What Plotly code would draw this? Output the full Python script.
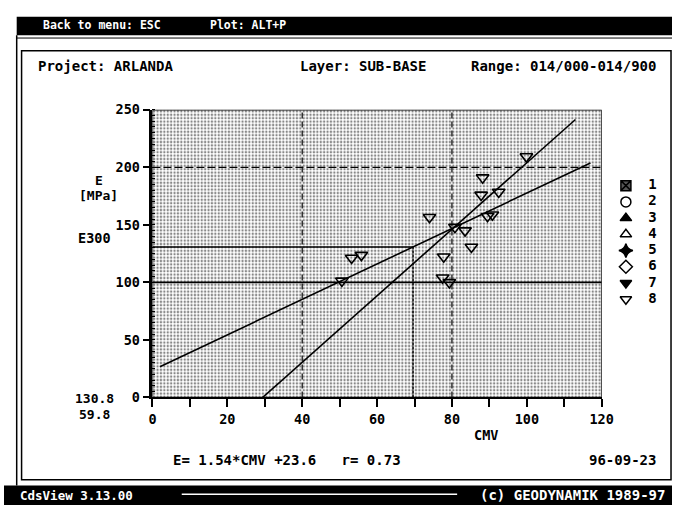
import plotly.graph_objects as go

W, H = 684, 513
FONT = "DejaVu Sans Mono"

# ---------------- data ----------------
cmv = [50.6, 53.2, 55.8, 74.0, 77.8, 77.5, 79.3, 80.8, 83.5, 85.2, 87.8, 88.2, 89.5, 90.8, 92.5, 99.9]
e_mod = [101.3, 121.2, 123.7, 156.6, 122.3, 104.0, 100.0, 148.0, 145.0, 130.7, 176.0, 191.0, 157.4, 158.8, 178.5, 209.3]

reg_slope, reg_intercept, r_value = 1.54, 23.6, 0.73
flat_cmv_range = [2.0, 117.0]
steep_cmv_range = [29.4, 113.0]
mean_cmv = 80.5
e300_value = 130.8
e300_label, cmv300_label = "130.8", "59.8"

x_ticks = [0, 20, 40, 60, 80, 100, 120]
y_ticks = [0, 50, 100, 150, 200, 250]
legend_names = ["1", "2", "3", "4", "5", "6", "7", "8"]
legend_symbols = ["square-x", "circle-open", "triangle-up", "triangle-up-open",
                  "star-diamond", "diamond-open", "triangle-down", "triangle-down-open"]

# regression lines
flat_e = [reg_slope * c + reg_intercept for c in flat_cmv_range]
steep_slope = reg_slope / r_value ** 2
mean_e = reg_slope * mean_cmv + reg_intercept
steep_e = [steep_slope * (c - mean_cmv) + mean_e for c in steep_cmv_range]
cmv300 = (e300_value - reg_intercept) / reg_slope


def px(x, y):
    return x / W, 1 - y / H


fig = go.Figure()

# stippled background of the plot area
fig.add_trace(go.Scatter(x=[0, 120, 120, 0, 0], y=[0, 0, 250, 250, 0], mode="lines",
                         fill="toself", line=dict(width=0), fillcolor="white",
                         fillpattern=dict(shape=".", size=3.4, solidity=0.38,
                                          fgcolor="#111111", bgcolor="white"),
                         hoverinfo="skip", showlegend=False))

# regression lines
fig.add_trace(go.Scatter(x=flat_cmv_range, y=flat_e, mode="lines",
                         line=dict(color="black", width=1.6), showlegend=False))
fig.add_trace(go.Scatter(x=steep_cmv_range, y=steep_e, mode="lines",
                         line=dict(color="black", width=1.6), showlegend=False))

# data points (series 8)
fig.add_trace(go.Scatter(x=cmv, y=e_mod, mode="markers",
                         marker=dict(symbol="triangle-down-open", size=11, color="black",
                                     line=dict(width=1.6, color="black")),
                         showlegend=False))

# manual legend
idx = list(range(1, len(legend_names) + 1))
fig.add_trace(go.Scatter(x=[0.2] * len(idx), y=idx, mode="markers", xaxis="x2", yaxis="y2",
                         marker=dict(symbol=legend_symbols, size=10,
                                     color=["#555555", "black", "black", "black", "black", "black", "black", "black"],
                                     line=dict(width=1.5, color="black")),
                         showlegend=False))
fig.add_trace(go.Scatter(x=[0.82] * len(idx), y=idx, mode="text", text=legend_names,
                         xaxis="x2", yaxis="y2",
                         textfont=dict(family=FONT, size=14, color="black", weight="bold"),
                         showlegend=False))

shapes = []
# grid / reference lines (data coords)
for xv in [40, 80]:
    shapes.append(dict(type="line", xref="x", yref="y", x0=xv, x1=xv, y0=0, y1=250,
                       line=dict(color="black", width=1.2, dash="6px,3px")))
shapes.append(dict(type="line", xref="x", yref="y", x0=0, x1=120, y0=200, y1=200,
                   line=dict(color="black", width=1.2, dash="8px,3px")))
shapes.append(dict(type="line", xref="x", yref="y", x0=0, x1=120, y0=100, y1=100,
                   line=dict(color="black", width=1.6)))
shapes.append(dict(type="line", xref="x", yref="y", x0=0, x1=cmv300, y0=e300_value, y1=e300_value,
                   line=dict(color="black", width=1.5)))
shapes.append(dict(type="line", xref="x", yref="y", x0=cmv300, x1=cmv300, y0=0, y1=e300_value,
                   line=dict(color="black", width=1.5, dash="3px,1px")))
# plot box
shapes.append(dict(type="rect", xref="x", yref="y", x0=0, x1=120, y0=0, y1=250,
                   line=dict(color="black", width=1.5)))


# screen frame (paper coords)
def rect(x0, y0, x1, y1, fill=None, lw=0, lc="black"):
    a = px(x0, y1)
    b = px(x1, y0)
    d = dict(type="rect", xref="paper", yref="paper", x0=a[0], y0=a[1], x1=b[0], y1=b[1],
             line=dict(width=lw, color=lc))
    if fill:
        d["fillcolor"] = fill
    return d


def hline(x0, x1, y, lw=1.5, color="black"):
    return dict(type="line", xref="paper", yref="paper", x0=x0 / W, x1=x1 / W,
                y0=1 - y / H, y1=1 - y / H, line=dict(width=lw, color=color))


def vline(x, y0, y1, lw=1.5, color="black"):
    return dict(type="line", xref="paper", yref="paper", x0=x / W, x1=x / W,
                y0=1 - y0 / H, y1=1 - y1 / H, line=dict(width=lw, color=color))


shapes.append(rect(13, 9, 684, 28, fill="black"))
shapes.append(rect(0, 493, 684, 513, fill="black"))
shapes.append(rect(18, 44, 683, 487, lw=1.5))
shapes.append(hline(13, 684, 31, lw=1))
shapes.append(vline(13, 28, 493, lw=1.5))
shapes.append(hline(182, 464, 502, lw=1.5, color="white"))

annotations = []


def txt(s, x, y, size=14, anchor="left", color="black"):
    xx, yy = px(x, y)
    annotations.append(dict(text=s, x=xx, y=yy, xref="paper", yref="paper",
                            xanchor=anchor, yanchor="middle", showarrow=False,
                            font=dict(family=FONT, size=size, color=color, weight="bold")))


txt("Back to menu: ESC", 38, 18, size=11.5, color="white")
txt("Plot: ALT+P", 209, 18, size=11.5, color="white")
txt("CdsView 3.13.00", 14, 503, size=12.5, color="white")
txt("(c) GEODYNAMIK 1989-97", 679, 503, size=14, anchor="right", color="white")

txt("Project: ARLANDA", 33, 60)
txt("Layer: SUB-BASE", 368, 60, anchor="center")
txt("Range: 014/000-014/900", 670, 60, anchor="right")

txt("E", 97, 178, size=13, anchor="center")
txt("[MPa]", 97, 194, size=13, anchor="center")
txt("E300", 93, 237, size=13.5, anchor="center")
txt(e300_label, 93, 403, size=13, anchor="center")
txt(cmv300_label, 93, 420, size=13, anchor="center")

txt("CMV", 494, 441, size=13.5, anchor="center")
txt("E= %.2f*CMV +%.1f   r= %.2f" % (reg_slope, reg_intercept, r_value), 171, 467)
txt("96-09-23", 670, 467, anchor="right")

tickfont = dict(family=FONT, size=13.5, color="black", weight="bold")

fig.update_layout(
    width=W, height=H,
    margin=dict(l=0, r=0, t=0, b=0),
    paper_bgcolor="white", plot_bgcolor="white",
    showlegend=False,
    shapes=shapes, annotations=annotations,
    xaxis=dict(domain=[152 / W, 612 / W], range=[0, 120], tickvals=x_ticks,
               ticks="outside", ticklen=8, tickwidth=1.5, tickcolor="black",
               minor=dict(dtick=10, ticks="outside", ticklen=8, tickwidth=1.5, tickcolor="black"),
               showline=True, linewidth=2, linecolor="black", showgrid=False, zeroline=False,
               tickfont=tickfont, fixedrange=True),
    yaxis=dict(domain=[1 - 402 / H, 1 - 105 / H], range=[0, 250], tickvals=y_ticks,
               ticks="outside", ticklen=7, tickwidth=1.5, tickcolor="black",
               minor=dict(dtick=5, ticks="inside", ticklen=3, tickwidth=1, tickcolor="black"),
               showline=True, linewidth=2.5, linecolor="black", showgrid=False, zeroline=False,
               tickfont=tickfont, fixedrange=True),
    xaxis2=dict(domain=[628 / W, 672 / W], range=[0, 1], visible=False, anchor="y2", fixedrange=True),
    yaxis2=dict(domain=[1 - 309 / H, 1 - 175 / H], range=[len(idx) + 0.5, 0.5], visible=False,
                anchor="x2", fixedrange=True),
)

fig.write_html("out.html", config={"displayModeBar": False},
               post_script="document.body.style.margin='0';document.body.style.overflow='hidden';")
